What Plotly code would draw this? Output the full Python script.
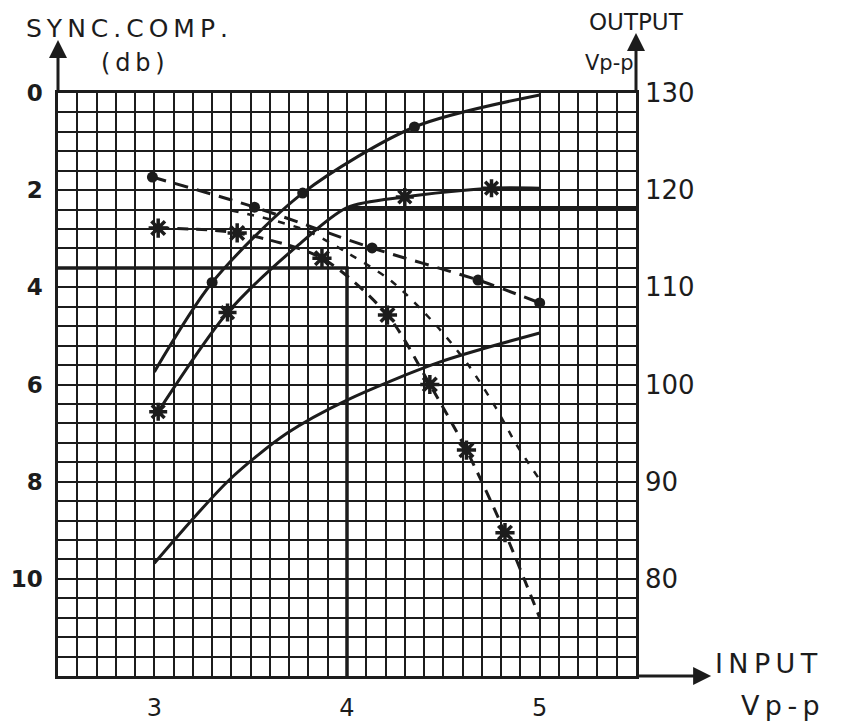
import plotly.graph_objects as go

# ---- data ----
# output curves (right axis, V p-p) against input (V p-p)
out_dot_x = [3.0, 3.3, 3.77, 4.35, 5.0]
out_dot_y = [101.3, 110.5, 119.7, 126.5, 129.8]
out_dot_mark_x = [3.3, 3.77, 4.35]
out_dot_mark_y = [110.5, 119.7, 126.5]

out_cross_x = [3.02, 3.38, 3.75, 4.0, 4.3, 4.75, 5.0]
out_cross_y = [97.2, 107.4, 114.4, 118.2, 119.3, 120.2, 120.2]
out_cross_mark_x = [3.02, 3.38, 4.3, 4.75]
out_cross_mark_y = [97.2, 107.4, 119.3, 120.2]

out_plain_x = [3.0, 3.39, 3.69, 4.0, 4.48, 5.0]
out_plain_y = [81.6, 90.2, 95.0, 98.4, 102.3, 105.3]

# sync compression curves (left axis, dB)
sync_dot_x = [2.99, 3.52, 4.13, 4.68, 5.0]
sync_dot_y = [1.73, 2.35, 3.19, 3.85, 4.32]

sync_star_x = [3.02, 3.43, 3.87, 4.21, 4.43, 4.62, 4.82, 5.0]
sync_star_y = [2.78, 2.88, 3.4, 4.57, 6.0, 7.35, 9.05, 10.8]
sync_star_mark_x = [3.02, 3.43, 3.87, 4.21, 4.43, 4.62, 4.82]
sync_star_mark_y = [2.78, 2.88, 3.4, 4.57, 6.0, 7.35, 9.05]

sync_plain_x = [3.4, 3.6, 3.8, 4.01, 4.23, 4.46, 4.63, 4.77, 4.88, 5.0]
sync_plain_y = [2.42, 2.6, 2.85, 3.31, 3.87, 4.77, 5.6, 6.46, 7.24, 7.96]

# reading lines at 4 V input
read_input = 4.0
read_sync = 3.6
read_output = 118.2

x_labels = {3.0: "3", 4.0: "4", 5.0: "5"}
sync_labels = {0: "0", 2: "2", 4: "4", 6: "6", 8: "8", 10: "10"}
out_ticks = [80, 90, 100, 110, 120, 130]

ink = "#1c1c1c"
font = "DejaVu Sans"

fig = go.Figure()

def curve(x, y, dash, yaxis="y", width=3, shape="spline"):
    fig.add_trace(go.Scatter(x=x, y=y, mode="lines", yaxis=yaxis,
                             line=dict(color=ink, width=width, dash=dash, shape=shape, smoothing=0.8),
                             hoverinfo="skip", showlegend=False))

def marks(x, y, symbol, size, yaxis="y", lw=0):
    fig.add_trace(go.Scatter(x=x, y=y, mode="markers", yaxis=yaxis,
                             marker=dict(symbol=symbol, size=size, color=ink, line=dict(color=ink, width=lw)),
                             hoverinfo="skip", showlegend=False))

curve(out_dot_x, out_dot_y, "solid", "y2")
marks(out_dot_mark_x, out_dot_mark_y, "circle", 11, "y2")
curve(out_cross_x, out_cross_y, "solid", "y2")
marks(out_cross_mark_x, out_cross_mark_y, "asterisk-open", 15, "y2", 3.5)
curve(out_plain_x, out_plain_y, "solid", "y2")

curve(sync_dot_x, sync_dot_y, "14px,9px")
marks(sync_dot_x, sync_dot_y, "circle", 11)
curve(sync_star_x, sync_star_y, "11px,8px")
marks(sync_star_mark_x, sync_star_mark_y, "asterisk-open", 16, "y", 3.5)
curve(sync_plain_x, sync_plain_y, "7px,9px", width=2.5)

# reading lines
curve([2.5, read_input, read_input], [read_sync, read_sync, 12], "solid", width=3.5, shape="linear")
curve([read_input, 5.5], [read_output, read_output], "solid", "y2", width=3.5, shape="linear")

xt = [round(2.5 + 0.1 * i, 1) for i in range(31)]
yt = [round(0.4 * i, 1) for i in range(31)]

# the page adds an 8px body margin, so the figure is 8px smaller each way
fig.update_layout(
    width=838, height=715,
    margin=dict(l=50, r=210, t=85, b=47),
    paper_bgcolor="white", plot_bgcolor="white",
    font=dict(family=font, color=ink),
    xaxis=dict(range=[2.5, 5.5], tickmode="array", tickvals=xt,
               ticktext=[x_labels.get(v, "") for v in xt], automargin=False,
               showgrid=True, gridcolor=ink, gridwidth=2, zeroline=False,
               showline=True, linecolor=ink, linewidth=2.5, mirror=True,
               ticks="", ticklabelstandoff=8, tickfont=dict(size=24)),
    yaxis=dict(range=[12, 0], tickmode="array", tickvals=yt,
               ticktext=[sync_labels.get(v, "") for v in yt], automargin=False,
               showgrid=True, gridcolor=ink, gridwidth=2, zeroline=False,
               showline=True, linecolor=ink, linewidth=2.5, mirror=True,
               ticks="", ticklabelstandoff=8, tickfont=dict(size=23, weight="bold")),
    yaxis2=dict(range=[70, 130], overlaying="y", side="right", tickmode="array",
                tickvals=out_ticks, ticktext=[str(v) for v in out_ticks], automargin=False,
                showgrid=False, zeroline=False, ticks="", ticklabelstandoff=8,
                tickfont=dict(size=26)),
)

# axis arrows
arrow = dict(showarrow=True, arrowhead=2, arrowsize=1.2, arrowwidth=3, arrowcolor=ink,
             text="", xref="paper", yref="paper", axref="pixel", ayref="pixel")
fig.add_annotation(x=0, y=1.091, ax=0, ay=53, **arrow)
fig.add_annotation(x=1, y=1.103, ax=0, ay=60, **arrow)
fig.add_annotation(x=1.13, y=0, ax=-75, ay=0, **arrow)

def label(text, x, y, size=24, anchor="center", gap="\u2009"):
    fig.add_annotation(text=gap.join(text), x=x, y=y, xref="paper", yref="paper", showarrow=False,
                       xanchor=anchor, yanchor="middle", font=dict(size=size, family=font, color=ink))

label("SYNC.COMP.", 0.119, 1.111, 25)
label("(db)", 0.13, 1.051, 24)
label("OUTPUT", 1.0, 1.122, 23, gap="")
label("Vp-p", 0.955, 1.052, 21, gap="")
label("INPUT", 1.133, 0.022, 27, "left")
label("Vp-p", 1.178, -0.05, 27, "left")

fig.write_html("out.html")
